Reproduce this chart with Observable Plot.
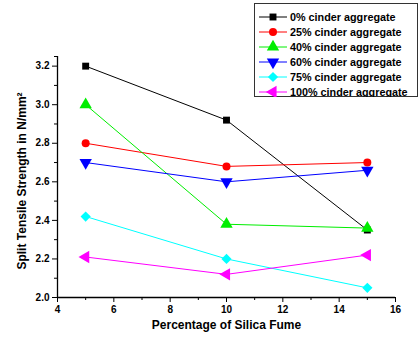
<!DOCTYPE html>
<html><head><meta charset="utf-8">
<script src="https://cdn.jsdelivr.net/npm/d3@7"></script>
<script src="https://cdn.jsdelivr.net/npm/@observablehq/plot@0.6"></script>
<style>
body{margin:0;background:#fff;}
#wrap{position:relative;width:419px;height:337px;}
#legend{position:absolute;left:254px;top:3px;}
</style></head><body><div id="wrap"></div>
<script>
const silicaFume = [5, 10, 15];
const seriesNames = ["0% cinder aggregate","25% cinder aggregate","40% cinder aggregate","60% cinder aggregate","75% cinder aggregate","100% cinder aggregate"];
const s0 = [3.20, 2.92, 2.35];
const s25 = [2.80, 2.68, 2.70];
const s40 = [3.00, 2.38, 2.36];
const s60 = [2.70, 2.60, 2.66];
const s75 = [2.42, 2.20, 2.05];
const s100 = [2.21, 2.12, 2.22];
const seriesColors = ["#000000","#ff0000","#00ee00","#0000ff","#00ffff","#ff00ff"];
const xMajorTicks = [4, 6, 8, 10, 12, 14, 16];
const xMinorTicks = [5, 7, 9, 11, 13, 15];
const yMajorTicks = [2.0, 2.2, 2.4, 2.6, 2.8, 3.0, 3.2];
const yMinorTicks = [2.1, 2.3, 2.5, 2.7, 2.9, 3.1, 3.25];
const xTitle = "Percentage of Silica Fume";
const yTitle = "Split Tensile Strength in N/mm\u00b2";

const sqrt3 = Math.sqrt(3);
const triDown = {draw(ctx, size){const y = -Math.sqrt(size/(sqrt3*3)); ctx.moveTo(0,-y*2); ctx.lineTo(-sqrt3*y,y); ctx.lineTo(sqrt3*y,y); ctx.closePath();}};
const triLeft = {draw(ctx, size){const y = -Math.sqrt(size/(sqrt3*3)); ctx.moveTo(y*2,0); ctx.lineTo(-y,-sqrt3*y); ctx.lineTo(-y,sqrt3*y); ctx.closePath();}};
const symbols = [d3.symbolSquare, d3.symbolCircle, d3.symbolTriangle, triDown, d3.symbolDiamond2, triLeft];
const symbolR = [3.9, 4, 4.6, 4.6, 4.6, 4.6];

const allSeries = [s0, s25, s40, s60, s75, s100];
const rows = [];
allSeries.forEach((vals, i) => vals.forEach((v, j) => rows.push({series: seriesNames[i], idx: i, x: silicaFume[j], y: v})));

const marks = [
  Plot.axisX({ticks: xMajorTicks, tickSize: 5, tickPadding: 3, tickFormat: d => String(d), label: null, fontWeight: "bold", fontSize: 10}),
  Plot.axisX({ticks: xMinorTicks, tickSize: 3, tickFormat: () => "", label: null}),
  Plot.axisY({ticks: yMajorTicks, tickSize: 5, tickPadding: 3, tickFormat: d3.format(".1f"), label: null, fontWeight: "bold", fontSize: 10}),
  Plot.axisY({ticks: yMinorTicks, tickSize: 3, tickFormat: () => "", label: null}),
  Plot.ruleY([2.0], {x1: 4, x2: 16, stroke: "#000", strokeWidth: 1.3}),
  Plot.ruleX([4], {y1: 2.0, y2: 3.25, stroke: "#000", strokeWidth: 1.3})
];
seriesNames.forEach((name, i) => {
  const d = rows.filter(r => r.idx === i);
  marks.push(Plot.line(d, {x: "x", y: "y", stroke: seriesColors[i], strokeWidth: 1}));
});
seriesNames.forEach((name, i) => {
  const d = rows.filter(r => r.idx === i);
  marks.push(Plot.dot(d, {x: "x", y: "y", symbol: symbols[i], r: symbolR[i], fill: seriesColors[i], stroke: "none"}));
});
marks.push(Plot.text([xTitle], {frameAnchor: "bottom", dy: 31, fontWeight: "bold", fontSize: 12, fill: "#000"}));
marks.push(Plot.text([yTitle], {frameAnchor: "left", textAnchor: "middle", dx: -35, dy: 4, rotate: -90, fontWeight: "bold", fontSize: 12, fill: "#000"}));

const plot = Plot.plot({
  width: 419, height: 337,
  marginLeft: 57, marginRight: 24, marginTop: 56, marginBottom: 40,
  x: {domain: [4, 16]},
  y: {domain: [2.0, 3.25]},
  style: {fontFamily: "'Liberation Sans', Arial, sans-serif", color: "#000", background: "#fff"},
  marks
});
document.getElementById("wrap").appendChild(plot);

// legend
const lw = 164, lh = 94, rowH = 15;
const leg = d3.select("#wrap").append("svg").attr("id", "legend").attr("width", lw).attr("height", lh);
leg.append("rect").attr("x", 0.5).attr("y", 0.5).attr("width", lw - 1).attr("height", lh - 1).attr("fill", "#fff").attr("stroke", "#333").attr("stroke-width", 1);
seriesNames.forEach((name, i) => {
  const cy = 14 + i * rowH;
  const g = leg.append("g");
  g.append("line").attr("x1", 5).attr("x2", 33).attr("y1", cy).attr("y2", cy).attr("stroke", seriesColors[i]).attr("stroke-width", 1);
  g.append("path").attr("d", d3.symbol(symbols[i], symbolR[i] * symbolR[i] * Math.PI)()).attr("transform", `translate(19,${cy})`).attr("fill", seriesColors[i]);
  g.append("text").attr("x", 36).attr("y", cy + 4).text(name)
    .attr("font-family", "'Liberation Sans', Arial, sans-serif").attr("font-weight", "bold").attr("font-size", 10.8).attr("fill", "#000");
});
</script>
</body></html>
